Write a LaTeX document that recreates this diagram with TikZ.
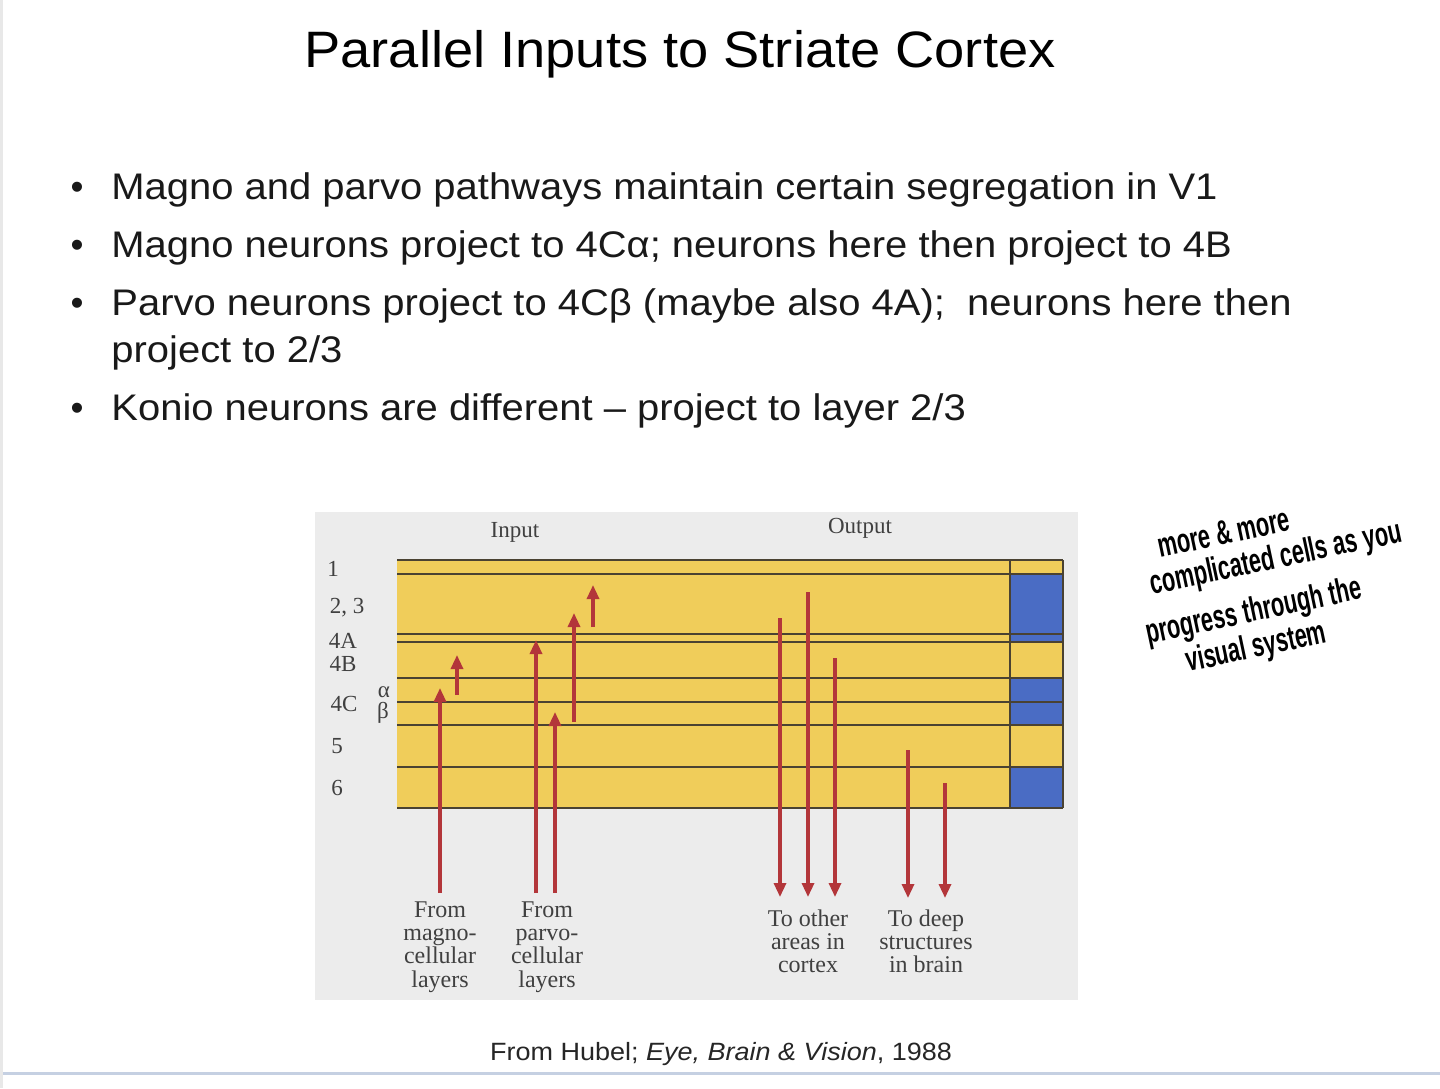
\documentclass[tikz,border=0pt]{standalone}
\usepackage{fontspec}
\setmainfont{Liberation Sans}
\newfontfamily\figfont{Liberation Serif}
\usetikzlibrary{arrows.meta}
\definecolor{band}{HTML}{F0CD5A}
\definecolor{bandblue}{HTML}{4A6CC4}
\definecolor{figbg}{HTML}{ECECEC}
\definecolor{layerline}{HTML}{4A4232}
\definecolor{axon}{HTML}{B3363A}
\definecolor{figtext}{HTML}{404040}
\definecolor{slideline}{HTML}{C5D0E2}
\definecolor{edgegray}{HTML}{E8E8E8}
\begin{document}
\begin{tikzpicture}[x=0.5pt,y=-0.5pt,
  titletext/.style={anchor=base, inner sep=0, font=\fontsize{25.6}{30}\selectfont, xscale=1.06},
  bullettext/.style={anchor=base west, inner sep=0, font=\fontsize{18.5}{22}\selectfont, xscale=1.08, text=black!90},
  bulletdot/.style={anchor=base, inner sep=0, font=\fontsize{18.5}{22}\selectfont, text=black!90},
  captext/.style={anchor=base, inner sep=0, font=\fontsize{12.5}{15}\selectfont, xscale=1.08, text=black!85},
  layerlab/.style={anchor=base, inner sep=0, font=\figfont\fontsize{11.5}{12}\selectfont, text=figtext},
  figlab/.style={anchor=north, inner sep=0, align=center, font=\figfont\fontsize{12}{11.7}\selectfont, text=figtext},
  layerrule/.style={draw=layerline, line width=1pt},
  axonup/.style={draw=axon, line width=1.6pt, -{Triangle[length=7pt,width=6pt]}},
  hand/.style={anchor=base west, inner sep=0, rotate=12, xscale=0.64, font=\bfseries\fontsize{17}{20}\selectfont, text=black}
]
\useasboundingbox (0,0) rectangle (1440,1088);
\fill[white] (0,0) rectangle (1440,1088);
% slide edges
\fill[edgegray] (0,0) rectangle (3,1088);
\draw[slideline, line width=1.5pt] (3,1073) -- (1440,1073);

% title
\node[titletext] (title) at (680,67) {Parallel Inputs to Striate Cortex};

% bullets
\node[bulletdot] (d1) at (77,199) {•};
\node[bullettext] (b1) at (111,199) {Magno and parvo pathways maintain certain segregation in V1};
\node[bulletdot] (d2) at (77,257) {•};
\node[bullettext] (b2) at (111,257) {Magno neurons project to 4Cα; neurons here then project to 4B};
\node[bulletdot] (d3) at (77,315) {•};
\node[bullettext] (b3) at (111,315) {Parvo neurons project to 4Cβ (maybe also 4A);\ \ neurons here then};
\node[bullettext] (b3b) at (111,362) {project to 2/3};
\node[bulletdot] (d4) at (77,420) {•};
\node[bullettext] (b4) at (111,420) {Konio neurons are different – project to layer 2/3};

% figure background
\fill[figbg] (315,512) rectangle (1078,1000);
\fill[band] (397,560) rectangle (1063,808);
\fill[bandblue] (1010,574) rectangle (1063,642);
\fill[bandblue] (1010,678) rectangle (1063,725);
\fill[bandblue] (1010,767) rectangle (1063,808);
\foreach \yy in {560,574,634,642,678,702,725,767,808}
  \draw[layerrule] (397,\yy) -- (1063,\yy);
\draw[layerrule] (1010,560) -- (1010,808);
\draw[layerrule] (1063,560) -- (1063,808);

% headings
\node[layerlab] (inp) at (515,537) {Input};
\node[layerlab] (outp) at (860,533) {Output};

% layer labels
\node[layerlab] (l1) at (333,576) {1};
\node[layerlab] (l23) at (347,613) {2, 3};
\node[layerlab] (l4a) at (343,648) {4A};
\node[layerlab] (l4b) at (343,671) {4B};
\node[layerlab] (l4c) at (344,711) {4C};
\node[layerlab] (lal) at (384,697) {α};
\node[layerlab] (lbe) at (383,718) {β};
\node[layerlab] (l5) at (337,753) {5};
\node[layerlab] (l6) at (337,795) {6};

% arrow end points
\coordinate (m1s) at (440,893); \coordinate (m1e) at (440,688);
\coordinate (m2s) at (457,695); \coordinate (m2e) at (457,655);
\coordinate (p1s) at (536,893); \coordinate (p1e) at (536,640);
\coordinate (p2s) at (555,893); \coordinate (p2e) at (555,712);
\coordinate (p3s) at (574,722); \coordinate (p3e) at (574,613);
\coordinate (p4s) at (593,627); \coordinate (p4e) at (593,585);
\coordinate (o1s) at (780,618); \coordinate (o1e) at (780,897);
\coordinate (o2s) at (808,592); \coordinate (o2e) at (808,897);
\coordinate (o3s) at (835,658); \coordinate (o3e) at (835,897);
\coordinate (q1s) at (908,750); \coordinate (q1e) at (908,898);
\coordinate (q2s) at (945,783); \coordinate (q2e) at (945,898);

\foreach \a in {m1,m2,p1,p2,p3,p4,o1,o2,o3,q1,q2}
  \draw[axonup] (\a s) -- (\a e);

% bottom labels
\node[figlab] (fm) at (440,901) {From\\magno-\\cellular\\layers};
\node[figlab] (fp) at (547,901) {From\\parvo-\\cellular\\layers};
\node[figlab] (tc) at (808,909) {To other\\areas in\\cortex};
\node[figlab] (tb) at (926,909) {To deep\\structures\\in brain};

% caption
\node[captext] (cap) at (721,1060) {From Hubel; \textit{Eye, Brain \& Vision}, 1988};

% handwritten note
\node[hand] (h1) at (1160,558) {more \& more};
\node[hand] (h2) at (1152,595) {complicated cells as you};
\node[hand] (h3) at (1148,644) {progress through the};
\node[hand] (h4) at (1188,672) {visual system};
\end{tikzpicture}
\end{document}
